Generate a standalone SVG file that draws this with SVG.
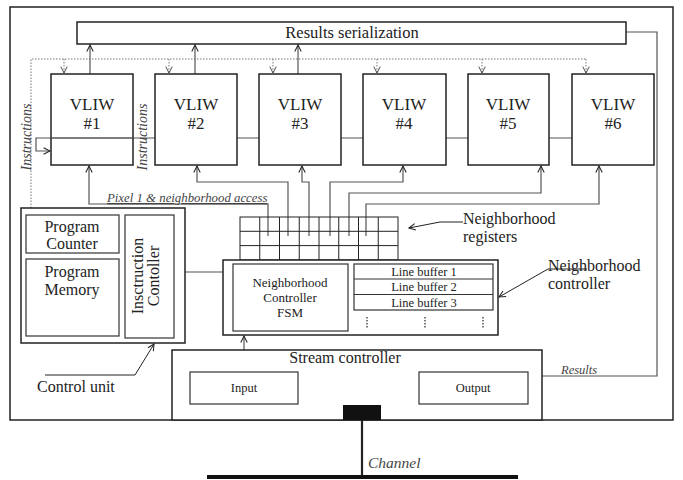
<svg xmlns="http://www.w3.org/2000/svg" width="683" height="480" viewBox="0 0 683 480">
<defs>
<style>
.box{fill:#fff;stroke:#222;stroke-width:1.5}
.ibox{fill:#fff;stroke:#333;stroke-width:1.2}
.ln{fill:none;stroke:#555;stroke-width:1.2}
.dot{fill:none;stroke:#777;stroke-width:1;stroke-dasharray:1.5,1.5}
.t{font-family:'Liberation Serif','Times New Roman','DejaVu Serif',serif;fill:#222;text-anchor:middle}
.ts{font-family:'Liberation Serif','Times New Roman','DejaVu Serif',serif;fill:#222;text-anchor:start}
.it{font-family:'Liberation Serif','Times New Roman','DejaVu Serif',serif;font-style:italic;fill:#444}
.v{font-size:17px}
</style>
<marker id="ah" viewBox="0 0 10 10" refX="9" refY="5" markerWidth="8" markerHeight="8" markerUnits="userSpaceOnUse" orient="auto">
<path d="M1,1 L9,5 L1,9" fill="none" stroke="#222" stroke-width="1.3"/>
</marker>
<marker id="ahd" viewBox="0 0 10 10" refX="9" refY="5" markerWidth="8" markerHeight="8" markerUnits="userSpaceOnUse" orient="auto">
<path d="M1,1 L9,5 L1,9" fill="none" stroke="#444" stroke-width="1.2"/>
</marker>
</defs>
<rect width="683" height="480" fill="#fff"/>
<rect x="10" y="7" width="663" height="413" fill="none" stroke="#222" stroke-width="1.5"/>

<g id="connectors">
<polyline class="dot" points="31,208 31,59 586,59"/>
<line class="dot" x1="64" y1="59" x2="64" y2="73" marker-end="url(#ahd)"/>
<line class="dot" x1="169" y1="59" x2="169" y2="73" marker-end="url(#ahd)"/>
<line class="dot" x1="273" y1="59" x2="273" y2="73" marker-end="url(#ahd)"/>
<line class="dot" x1="377" y1="59" x2="377" y2="73" marker-end="url(#ahd)"/>
<line class="dot" x1="482" y1="59" x2="482" y2="73" marker-end="url(#ahd)"/>
<line class="dot" x1="586" y1="59" x2="586" y2="73" marker-end="url(#ahd)"/>
<line class="ln" x1="90" y1="74" x2="90" y2="45" marker-end="url(#ah)"/>
<line class="ln" x1="195" y1="74" x2="195" y2="45" marker-end="url(#ah)"/>
<line class="ln" x1="298" y1="74" x2="298" y2="45" marker-end="url(#ah)"/>
<polyline class="ln" points="572,138 36,138 36,151 50,151" marker-end="url(#ah)"/>
<polyline class="ln" points="268,236 268,204 89,204 89,166" marker-end="url(#ah)"/>
<polyline class="ln" points="288,236 288,182 197,182 197,166" marker-end="url(#ah)"/>
<polyline class="ln" points="309,236 309,182 302,182 302,166" marker-end="url(#ah)"/>
<polyline class="ln" points="330,236 330,182 403,182 403,166" marker-end="url(#ah)"/>
<polyline class="ln" points="349,236 349,193 541,193 541,166" marker-end="url(#ah)"/>
<polyline class="ln" points="366,236 366,204 599,204 599,166" marker-end="url(#ah)"/>
<polyline class="ln" points="626,32 657,32 657,376 529,376" marker-end="url(#ah)"/>
<line class="ln" x1="223" y1="272" x2="175" y2="272" marker-end="url(#ah)"/>
<line class="ln" x1="244" y1="372" x2="244" y2="336" marker-end="url(#ah)"/>
<polyline class="ln" points="343,410 316,410 316,377 299,377" marker-end="url(#ah)"/>
<polyline class="ln" points="419,377 401,377 401,410 382,410" marker-end="url(#ah)"/>
<polyline fill="none" stroke="#222" stroke-width="1" points="463,222 440,222 409,228" marker-end="url(#ah)"/>
<polyline fill="none" stroke="#222" stroke-width="1" points="587,269 548,269 499,297" marker-end="url(#ah)"/>
<polyline fill="none" stroke="#222" stroke-width="1" points="45,375 135,375 154,344" marker-end="url(#ah)"/>
<line x1="362" y1="420" x2="362" y2="477" stroke="#222" stroke-width="2.2"/>
<line x1="207" y1="477" x2="518" y2="477" stroke="#111" stroke-width="4"/>
</g>

<g id="results-serialization">
<rect class="box" x="77" y="22" width="549" height="22"/>
<text class="t" x="352" y="38" font-size="16.5">Results serialization</text>
</g>

<g id="vliw1">
<rect class="box" x="51" y="74" width="82" height="91" fill-opacity="0"/>
<line class="ln" x1="51" y1="138" x2="133" y2="138"/>
<text class="t v" x="92" y="110">VLIW</text>
<text class="t v" x="92" y="129">#1</text>
</g>
<g id="vliw2">
<rect class="box" x="155" y="74" width="82" height="91"/>
<text class="t v" x="196" y="110">VLIW</text>
<text class="t v" x="196" y="129">#2</text>
</g>
<g id="vliw3">
<rect class="box" x="259" y="74" width="82" height="91"/>
<text class="t v" x="300" y="110">VLIW</text>
<text class="t v" x="300" y="129">#3</text>
</g>
<g id="vliw4">
<rect class="box" x="363" y="74" width="83" height="91"/>
<text class="t v" x="404" y="110">VLIW</text>
<text class="t v" x="404" y="129">#4</text>
</g>
<g id="vliw5">
<rect class="box" x="468" y="74" width="81" height="91"/>
<text class="t v" x="508" y="110">VLIW</text>
<text class="t v" x="508" y="129">#5</text>
</g>
<g id="vliw6">
<rect class="box" x="572" y="74" width="82" height="91"/>
<text class="t v" x="613" y="110">VLIW</text>
<text class="t v" x="613" y="129">#6</text>
</g>

<g id="labels">
<text class="it" font-size="14" transform="translate(31,137) rotate(-90)" text-anchor="middle">Instructions</text>
<text class="it" font-size="14" transform="translate(147,137) rotate(-90)" text-anchor="middle">Instructions</text>
<text class="it" font-size="12.8" x="107" y="202" text-decoration="underline">Pixel 1 &amp; neighborhood access</text>
<text class="it" font-size="12.5" x="561" y="374">Results</text>
<text class="it" font-size="15.5" x="368" y="468">Channel</text>
<text class="ts" font-size="16" x="463" y="224">Neighborhood</text>
<text class="ts" font-size="16" x="463" y="242">registers</text>
<text class="ts" font-size="16" x="548" y="271">Neighborhood</text>
<text class="ts" font-size="16" x="548" y="289">controller</text>
<text class="ts" font-size="16" x="37" y="392">Control unit</text>
</g>

<g id="neighborhood-registers" fill="none" stroke="#222" stroke-width="1">
<rect x="240" y="217" width="158" height="43"/>
<path d="M240,231.3H398M240,245.6H398M259.75,217V260M279.5,217V260M299.25,217V260M319,217V260M338.75,217V260M358.5,217V260M378.25,217V260"/>
</g>

<g id="neighborhood-controller">
<rect class="box" x="223" y="260" width="275" height="75"/>
<rect class="ibox" x="233" y="264" width="115" height="67"/>
<text class="t" font-size="13" x="290" y="287">Neighborhood</text>
<text class="t" font-size="13" x="290" y="302">Controller</text>
<text class="t" font-size="13" x="290" y="317">FSM</text>
<rect class="ibox" x="354" y="264" width="139" height="46"/>
<line class="ibox" x1="354" y1="279" x2="493" y2="279"/>
<line class="ibox" x1="354" y1="294.5" x2="493" y2="294.5"/>
<text class="t" font-size="12.5" x="424" y="276">Line buffer 1</text>
<text class="t" font-size="12.5" x="424" y="291">Line buffer 2</text>
<text class="t" font-size="12.5" x="424" y="306.5">Line buffer 3</text>
<path d="M367,317V328M425,317V328M483,317V328" stroke="#333" stroke-width="1.3" stroke-dasharray="1.5,1.5"/>
</g>

<g id="control-unit">
<rect class="box" x="21" y="208" width="164" height="135"/>
<rect class="ibox" x="26" y="215" width="93" height="38"/>
<text class="t" font-size="16" x="72" y="232">Program</text>
<text class="t" font-size="16" x="72" y="249">Counter</text>
<rect class="ibox" x="26" y="259" width="93" height="77"/>
<text class="t" font-size="16" x="72" y="277">Program</text>
<text class="t" font-size="16" x="72" y="295">Memory</text>
<rect class="ibox" x="125" y="215" width="49" height="123"/>
<text class="t" font-size="16" transform="translate(143,276) rotate(-90)">Insctruction</text>
<text class="t" font-size="16" transform="translate(159,276) rotate(-90)">Contoller</text>
</g>

<g id="stream-controller">
<rect class="box" x="172" y="350" width="370" height="70" fill="none"/>
<text class="t" font-size="16" x="345" y="363">Stream controller</text>
</g>
<g id="input">
<rect class="ibox" x="190" y="372" width="108" height="32"/>
<text class="t" font-size="12.5" x="244" y="392">Input</text>
</g>
<g id="output">
<rect class="ibox" x="419" y="372" width="109" height="32"/>
<text class="t" font-size="12.5" x="473" y="392">Output</text>
</g>
<g id="channel-port">
<rect x="343" y="405" width="38" height="15" fill="#111"/>
</g>
</svg>
